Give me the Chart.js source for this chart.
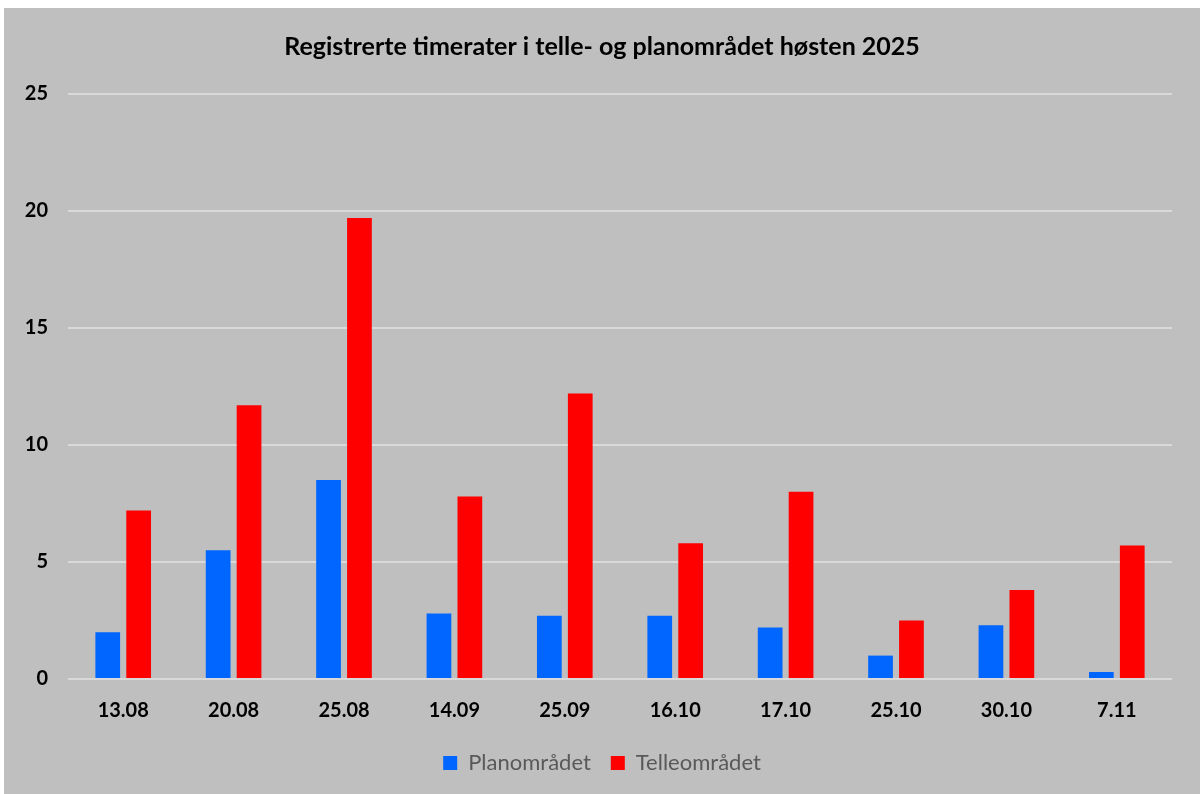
<!DOCTYPE html>
<html>
<head>
<meta charset="utf-8">
<script src="https://cdn.jsdelivr.net/npm/chart.js@4"></script>
<style>
  html, body { margin: 0; padding: 0; background: #ffffff; }
  #wrap { position: absolute; left: 4px; top: 8px; width: 1196px; height: 786px; }
</style>
</head>
<body>
<div id="wrap"><canvas id="chart" width="1196" height="786"></canvas></div>
<script>
const dates = ['13.08', '20.08', '25.08', '14.09', '25.09', '16.10', '17.10', '25.10', '30.10', '7.11'];
const planomradet = [2.0, 5.5, 8.5, 2.8, 2.7, 2.7, 2.2, 1.0, 2.3, 0.3];
const telleomradet = [7.2, 11.7, 19.7, 7.8, 12.2, 5.8, 8.0, 2.5, 3.8, 5.7];
const yTicks = [0, 5, 10, 15, 20, 25];

const font = 'Lato, "Open Sans", sans-serif';

const bgPlugin = {
  id: 'bg',
  beforeDraw(chart) {
    const ctx = chart.ctx;
    ctx.save();
    ctx.fillStyle = '#bfbfbf';
    ctx.fillRect(0, 0, chart.width, chart.height);
    ctx.restore();
  },
};

new Chart(document.getElementById('chart'), {
  type: 'bar',
  data: {
    labels: dates,
    datasets: [
      {
        label: 'Planområdet',
        data: planomradet,
        backgroundColor: '#0066ff',
        categoryPercentage: 0.56,
        barPercentage: 0.8,
      },
      {
        label: 'Telleområdet',
        data: telleomradet,
        backgroundColor: '#ff0000',
        categoryPercentage: 0.56,
        barPercentage: 0.8,
      },
    ],
  },
  options: {
    responsive: false,
    animation: false,
    layout: { padding: { left: 0, right: 0, top: 0, bottom: 10 } },
    plugins: {
      title: {
        display: true,
        text: 'Registrerte timerater i telle- og planområdet høsten 2025',
        color: '#000000',
        font: { family: font, size: 25, weight: 'bold' },
        padding: { top: 24, bottom: 32 },
      },
      legend: {
        position: 'bottom',
        labels: {
          color: '#595959',
          font: { family: font, size: 22 },
          boxWidth: 14,
          boxHeight: 14,
          padding: 20,
        },
      },
      tooltip: { enabled: false },
    },
    scales: {
      x: {
        grid: { display: false },
        border: { display: false },
        ticks: { color: '#000000', font: { family: font, size: 20, weight: 'bold' }, padding: 12 },
        afterFit(scale) { scale.height = 53; },
      },
      y: {
        min: 0,
        max: 25,
        afterBuildTicks(scale) { scale.ticks = yTicks.map((v) => ({ value: v })); },
        grid: { color: '#d9d9d9', lineWidth: 2, drawTicks: false },
        border: { display: false },
        ticks: { color: '#000000', font: { family: font, size: 20, weight: 'bold' }, padding: 20 },
        afterFit(scale) { scale.width = 64; },
      },
      yRight: {
        position: 'right',
        grid: { display: false },
        border: { display: false },
        ticks: { display: false },
        afterFit(scale) { scale.width = 28; },
      },
    },
  },
  plugins: [bgPlugin],
});
</script>
</body>
</html>
